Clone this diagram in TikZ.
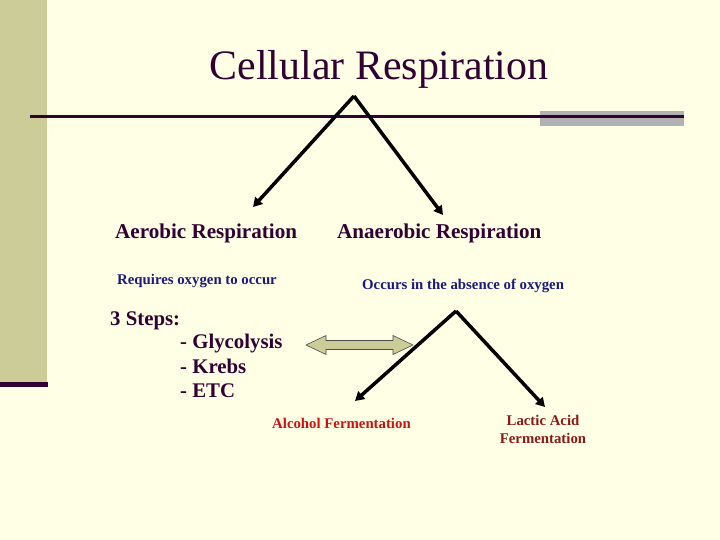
\documentclass[tikz,border=0pt]{standalone}
\usepackage{fontspec}
\setmainfont{Liberation Serif}
\usetikzlibrary{arrows.meta}
\definecolor{cream}{HTML}{FFFFE5}
\definecolor{khaki}{HTML}{CCCC99}
\definecolor{plum}{HTML}{330033}
\definecolor{rulegray}{HTML}{B2B2B2}
\definecolor{navy}{HTML}{1A1A80}
\definecolor{brick}{HTML}{CC1111}
\definecolor{maroon}{HTML}{8B1A1A}
\begin{document}
\begin{tikzpicture}[x=1pt,y=-1pt,
  head/.style={font=\fontsize{21.1}{25}\selectfont\bfseries,text=plum,anchor=base west,inner sep=0},
  stepline/.style={head,font=\fontsize{20.8}{25}\selectfont\bfseries},
  note/.style={font=\fontsize{14.8}{18}\selectfont\bfseries,anchor=base west,inner sep=0},
  fork/.style={line width=3.5pt,-{Triangle[length=9pt,width=10pt]}}]
\fill[cream] (0,0) rectangle (720,540);
\useasboundingbox (0,0) rectangle (720,540);
% left band and title rule
\fill[khaki] (0,0) rectangle (47,382);
\fill[plum] (0,382) rectangle (48,387);
\fill[rulegray] (540,111) rectangle (684,126);
\draw[plum,line width=3pt] (30,117) -- (684,117);
\node[anchor=base,inner sep=0,text=plum,font=\fontsize{41.9}{48}\selectfont] (title) at (379,80) {Cellular Respiration};
% first fork
\coordinate (top) at (354,96);
\coordinate (aerotip) at (253,207);
\coordinate (anaerotip) at (443,215);
\draw[fork] (top) -- (aerotip);
\draw[fork] (top) -- (anaerotip);
\node[head] (aerobic) at (115,239) {Aerobic Respiration};
\node[head] (anaerobic) at (337,239) {Anaerobic Respiration};
\node[note,text=navy] (requires) at (117,284) {Requires oxygen to occur};
\node[note,text=navy] (occurs) at (362,289) {Occurs in the absence of oxygen};
% steps
\node[stepline] (steps) at (110,325) {3 Steps:};
\node[stepline] (glyco) at (180,348) {- Glycolysis};
\node[stepline] (krebs) at (180,373) {- Krebs};
\node[stepline] (etc) at (180,397) {- ETC};
% double arrow
\filldraw[fill=khaki,draw=black!70,line width=0.6pt]
  (306,345) -- (326,335.5) -- (326,340.5) -- (393,340.5) -- (393,335.5) -- (413,345)
  -- (393,354.5) -- (393,349.5) -- (326,349.5) -- (326,354.5) -- cycle;
% second fork
\coordinate (ftop) at (456,311);
\coordinate (alctip) at (355,401);
\coordinate (lactip) at (545,407);
\draw[fork] (ftop) -- (alctip);
\draw[fork] (ftop) -- (lactip);
\node[note,text=brick] (alcohol) at (272,428) {Alcohol Fermentation};
\node[font=\fontsize{14.8}{18}\selectfont\bfseries,text=maroon,align=center,inner sep=0] (lactic) at (543,429) {Lactic Acid\\Fermentation};
\end{tikzpicture}
\end{document}
